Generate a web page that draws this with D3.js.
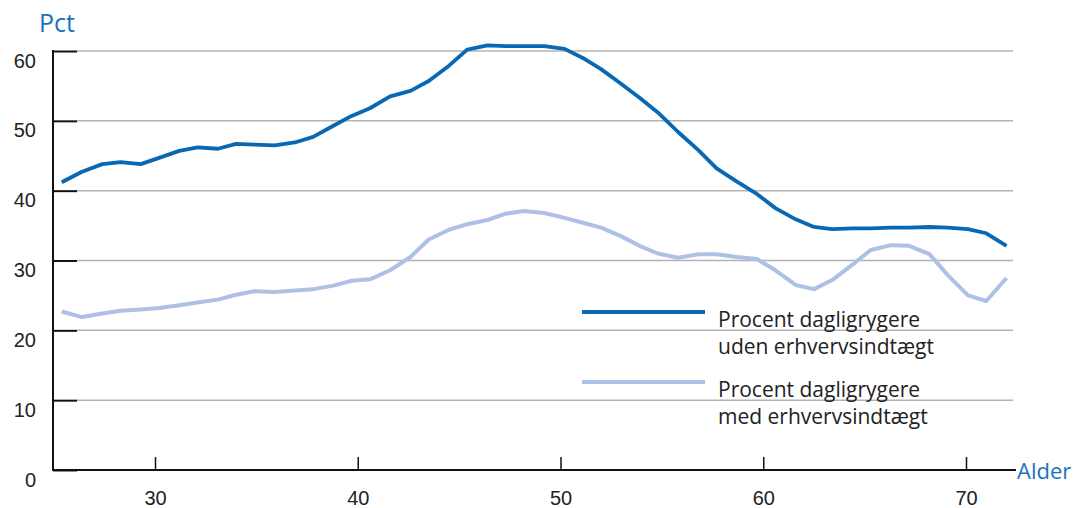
<!DOCTYPE html>
<html>
<head>
<meta charset="utf-8">
<script src="https://cdn.jsdelivr.net/npm/d3@7"></script>
<style>
  body { margin: 0; background: #fff; }
  svg { display: block; font-family: "Open Sans", sans-serif; }
  .tick text { fill: #222; font-size: 20px; }
</style>
</head>
<body>
<div id="chart"></div>
<script>
// ages of each point (the points sit slightly less than one year apart)
const alder = [
  25.4, 26.4, 27.4, 28.3, 29.3, 30.2, 31.2, 32.1, 33.1, 34.0,
  34.9, 35.9, 36.9, 37.8, 38.8, 39.7, 40.6, 41.6, 42.6, 43.5,
  44.5, 45.4, 46.4, 47.3, 48.2, 49.2, 50.2, 51.1, 52.0, 52.9,
  53.9, 54.8, 55.8, 56.8, 57.7, 58.7, 59.7, 60.6, 61.6, 62.5,
  63.4, 64.4, 65.3, 66.3, 67.2, 68.2, 69.1, 70.1, 71.0, 72.0
];

const udenIndtaegt = [
  41.2, 42.7, 43.8, 44.1, 43.8, 44.7, 45.7, 46.2, 46.0, 46.7,
  46.6, 46.5, 46.9, 47.7, 49.3, 50.7, 51.8, 53.5, 54.3, 55.7,
  57.9, 60.2, 60.8, 60.7, 60.7, 60.7, 60.3, 59.0, 57.4, 55.5,
  53.3, 51.2, 48.4, 45.8, 43.2, 41.3, 39.5, 37.5, 35.9, 34.8,
  34.5, 34.6, 34.6, 34.7, 34.7, 34.8, 34.7, 34.5, 33.9, 32.1
];

const medIndtaegt = [
  22.7, 21.9, 22.4, 22.8, 23.0, 23.2, 23.6, 24.0, 24.4, 25.1,
  25.6, 25.5, 25.7, 25.9, 26.4, 27.1, 27.3, 28.6, 30.5, 33.0,
  34.4, 35.2, 35.8, 36.7, 37.1, 36.8, 36.1, 35.4, 34.7, 33.6,
  32.1, 31.0, 30.4, 30.9, 30.9, 30.5, 30.2, 28.6, 26.5, 25.9,
  27.2, 29.4, 31.5, 32.2, 32.1, 30.9, 27.9, 25.0, 24.2, 27.5
];

const xTicks = [30, 40, 50, 60, 70];
const yTicks = [0, 10, 20, 30, 40, 50, 60];

const series = [
  { label: ["Procent dagligrygere", "uden erhvervsindtægt"], values: udenIndtaegt, color: "#0868b3", width: 3.8 },
  { label: ["Procent dagligrygere", "med erhvervsindtægt"], values: medIndtaegt, color: "#aec0e6", width: 4 }
];

const width = 1087;
const height = 508;
const plot = { left: 53, right: 1013, top: 51, bottom: 470 };

const svg = d3.select("#chart")
  .append("svg")
  .attr("width", width)
  .attr("height", height);

const x = d3.scaleLinear()
  .domain([30, 70])
  .range([155, 966]);

const y = d3.scaleLinear()
  .domain([0, 60])
  .range([plot.bottom, plot.top]);

// grid lines
svg.append("g")
  .selectAll("line")
  .data(yTicks.filter(d => d > 0))
  .enter()
  .append("line")
  .attr("x1", plot.left + 24)
  .attr("x2", plot.right)
  .attr("y1", d => y(d))
  .attr("y2", d => y(d))
  .attr("stroke", "#b3b3b3")
  .attr("stroke-width", 1.5);

const yAxis = d3.axisLeft(y)
  .tickValues(yTicks)
  .tickSize(-24)
  .tickPadding(17)
  .tickFormat(d3.format("d"));

const yg = svg.append("g")
  .attr("transform", `translate(${plot.left},0)`)
  .call(yAxis);
yg.select(".domain").remove();
yg.selectAll(".tick line").attr("stroke", "#111").attr("stroke-width", 2);
yg.selectAll(".tick text").attr("dy", 16);
yg.append("line")
  .attr("y1", plot.top - 1)
  .attr("y2", plot.bottom)
  .attr("stroke", "#111")
  .attr("stroke-width", 2);

const xAxis = d3.axisBottom(x)
  .tickValues(xTicks)
  .tickSize(-13)
  .tickPadding(21)
  .tickFormat(d3.format("d"));

const xg = svg.append("g")
  .attr("transform", `translate(0,${plot.bottom})`)
  .call(xAxis);
xg.select(".domain").remove();
xg.selectAll(".tick line").attr("stroke", "#111").attr("stroke-width", 1.5);
xg.selectAll(".tick text").attr("dy", 14);
xg.append("line")
  .attr("x1", plot.left - 1)
  .attr("x2", 1016)
  .attr("stroke", "#111")
  .attr("stroke-width", 2);

const line = d3.line()
  .x(d => x(d[0]))
  .y(d => y(d[1]));

// light series first so the dark one sits on top
series.slice().reverse().forEach(s => {
  svg.append("path")
    .datum(alder.map((a, i) => [a, s.values[i]]))
    .attr("fill", "none")
    .attr("stroke", s.color)
    .attr("stroke-width", s.width)
    .attr("stroke-linejoin", "round")
    .attr("d", line);
});

// legend
const legend = svg.append("g");
series.forEach((s, i) => {
  const ly = 312 + i * 70;
  legend.append("line")
    .attr("x1", 582)
    .attr("x2", 705)
    .attr("y1", ly)
    .attr("y2", ly)
    .attr("stroke", s.color)
    .attr("stroke-width", s.width);
  const t = legend.append("text")
    .attr("x", 718)
    .attr("y", ly + 15)
    .attr("fill", "#222")
    .style("font-size", "21px");
  s.label.forEach((l, j) => {
    t.append("tspan")
      .attr("x", 718)
      .attr("dy", j === 0 ? 0 : 27)
      .text(l);
  });
});

svg.append("text")
  .attr("x", 39)
  .attr("y", 32)
  .attr("fill", "#1a72bb")
  .style("font-size", "25px")
  .text("Pct");

svg.append("text")
  .attr("x", 1017)
  .attr("y", 479)
  .attr("fill", "#1a72bb")
  .style("font-size", "22px")
  .text("Alder");
</script>
</body>
</html>
